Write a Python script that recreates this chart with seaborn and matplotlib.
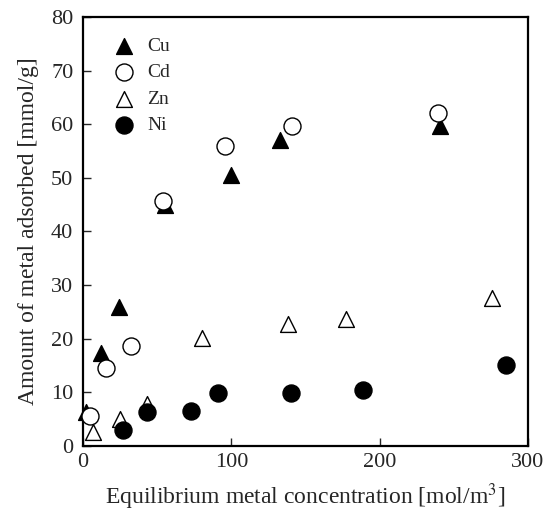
import matplotlib
matplotlib.use("Agg")
import matplotlib.pyplot as plt
import seaborn as sns
import pandas as pd

cu_x = [2, 12, 24, 55, 100, 133, 241]
cu_y = [6.3, 17.4, 26.0, 45.0, 50.5, 57.0, 59.7]
cd_x = [4.7, 15.5, 32, 54, 96, 141, 239]
cd_y = [5.7, 14.5, 18.7, 45.7, 56.0, 59.7, 62.0]
zn_x = [6.7, 25, 43, 80, 138, 177.5, 276]
zn_y = [2.6, 5.0, 7.8, 20.1, 22.8, 23.7, 27.6]
ni_x = [27, 43, 73, 91, 140.5, 189, 285]
ni_y = [3.0, 6.3, 6.5, 9.9, 9.9, 10.4, 15.1]

sns.set_style("white")
plt.rcParams['font.family'] = ['Liberation Serif', 'DejaVu Serif']
plt.rcParams['mathtext.fontset'] = 'stix'

fig = plt.figure(figsize=(5.5, 5.11), dpi=100)
ax = fig.add_axes([0.151, 0.127, 0.809, 0.840])

series = [
    ("Cu", cu_x, cu_y, "^", "black"),
    ("Cd", cd_x, cd_y, "o", "white"),
    ("Zn", zn_x, zn_y, "^", "white"),
    ("Ni", ni_x, ni_y, "o", "black"),
]
for name, xs, ys, mk, fc in series:
    df = pd.DataFrame({"x": xs, "y": ys})
    s = 150 if mk == "o" else 130
    sns.scatterplot(data=df, x="x", y="y", ax=ax, marker=mk, s=s,
                    facecolor=fc, edgecolor="black", linewidth=1.0,
                    label=name, zorder=3, clip_on=False)

ax.set_xlim(0, 300)
ax.set_ylim(0, 80)
ax.set_xticks([0, 100, 200, 300])
ax.set_yticks(range(0, 81, 10))
ax.tick_params(direction="in", length=6, width=1, labelsize=16,
               bottom=True, left=True, top=False, right=False, pad=5)
ax.tick_params(axis="y", pad=7)
for sp in ax.spines.values():
    sp.set_linewidth(1.6)
    sp.set_color("black")
ax.set_xlabel("Equilibrium metal concentration [mol/m$^3$]", fontsize=17, labelpad=7)
ax.set_ylabel("Amount of metal adsorbed [mmol/g]", fontsize=17, labelpad=9)

ax.legend(loc="upper left", frameon=False, fontsize=14, handletextpad=0.2,
          labelspacing=0.45, borderaxespad=0.0, bbox_to_anchor=(0.031, 0.97),
          markerscale=1.0)

fig.savefig("out.png", dpi=100)
